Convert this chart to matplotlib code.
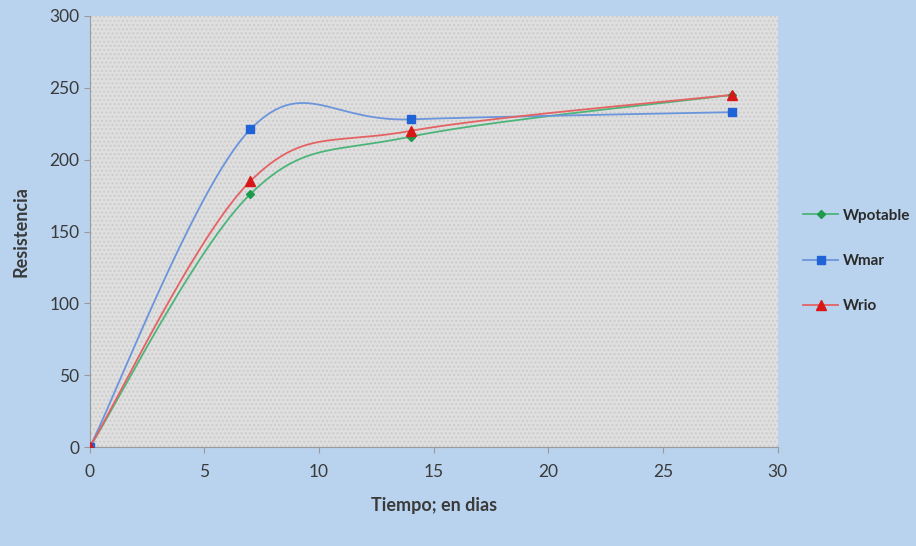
import numpy as np
import matplotlib
matplotlib.use('Agg')
import matplotlib.pyplot as plt
from matplotlib.patches import Rectangle

plt.rcParams['font.family'] = ['Lato', 'DejaVu Sans']

dias = [0, 7, 14, 28]
wpotable = [0, 176, 216, 245]
wmar = [0, 221, 228, 233]
wrio = [0, 185, 220, 245]

series = [
    ("Wpotable", wpotable, '#4cb57a', '#1f9a4a', 'D', 4.5),
    ("Wmar", wmar, '#6a95dc', '#1f63d6', 's', 5.5),
    ("Wrio", wrio, '#e56262', '#d81818', '^', 6.5),
]


def smooth(xs, ys, n=60):
    # excel-like smoothing: bezier segments with catmull-rom control points
    pts = np.column_stack([xs, ys]).astype(float)
    pad = np.vstack([pts[0], pts, pts[-1]])
    out = []
    t = np.linspace(0, 1, n)[:, None]
    for i in range(len(pts) - 1):
        p0, p1, p2, p3 = pad[i], pad[i + 1], pad[i + 2], pad[i + 3]
        c1 = p1 + (p2 - p0) / 6
        c2 = p2 - (p3 - p1) / 6
        seg = ((1 - t) ** 3) * p1 + 3 * t * (1 - t) ** 2 * c1 + 3 * t ** 2 * (1 - t) * c2 + t ** 3 * p2
        out.append(seg)
    out = np.vstack(out)
    return out[:, 0], out[:, 1]


fig = plt.figure(figsize=(9.16, 5.46), dpi=100)
fig.patch.set_facecolor('#b9d3ee')
ax = fig.add_axes([0.098, 0.181, 0.751, 0.790])
ax.set_facecolor('#e0dfdf')
ax.add_patch(Rectangle((0, 0), 1, 1, transform=ax.transAxes, fill=False,
                       hatch='....', edgecolor='#cdcbcb', linewidth=0, zorder=0))

for name, vals, lc, mc, mk, ms in series:
    sx, sy = smooth(dias, vals)
    ax.plot(sx, sy, color=lc, lw=1.3, zorder=3)
    ax.plot(dias, vals, linestyle='none', marker=mk, color=mc, markersize=ms, zorder=4)
    ax.plot([], [], color=lc, lw=1.3, marker=mk, markerfacecolor=mc,
            markeredgecolor=mc, markersize=ms, label=name)

ax.set_xlim(0, 30)
ax.set_ylim(0, 300)
ax.set_xticks(range(0, 31, 5))
ax.set_yticks(range(0, 301, 50))

for s in ['top', 'right']:
    ax.spines[s].set_visible(False)
for s in ['left', 'bottom']:
    ax.spines[s].set_color('#9a9a9a')
ax.tick_params(colors='#9a9a9a', labelcolor='#3a3a3a', labelsize=12.5, length=4)
ax.tick_params(axis='x', pad=8)

ax.set_xlabel('Tiempo; en dias', fontsize=13, fontweight='bold', color='#3a3a3a', labelpad=12)
ax.set_ylabel('Resistencia', fontsize=13, fontweight='bold', color='#3a3a3a', labelpad=14)

leg = fig.legend(loc='center left', bbox_to_anchor=(0.877, 0.522), frameon=False,
                 labelspacing=2.05, handlelength=2.3, handletextpad=0.3,
                 borderaxespad=0, borderpad=0,
                 prop={'weight': 'bold', 'size': 11})
for t in leg.get_texts():
    t.set_color('#2a2a2a')

fig.savefig('out.png', dpi=100, facecolor=fig.get_facecolor())
